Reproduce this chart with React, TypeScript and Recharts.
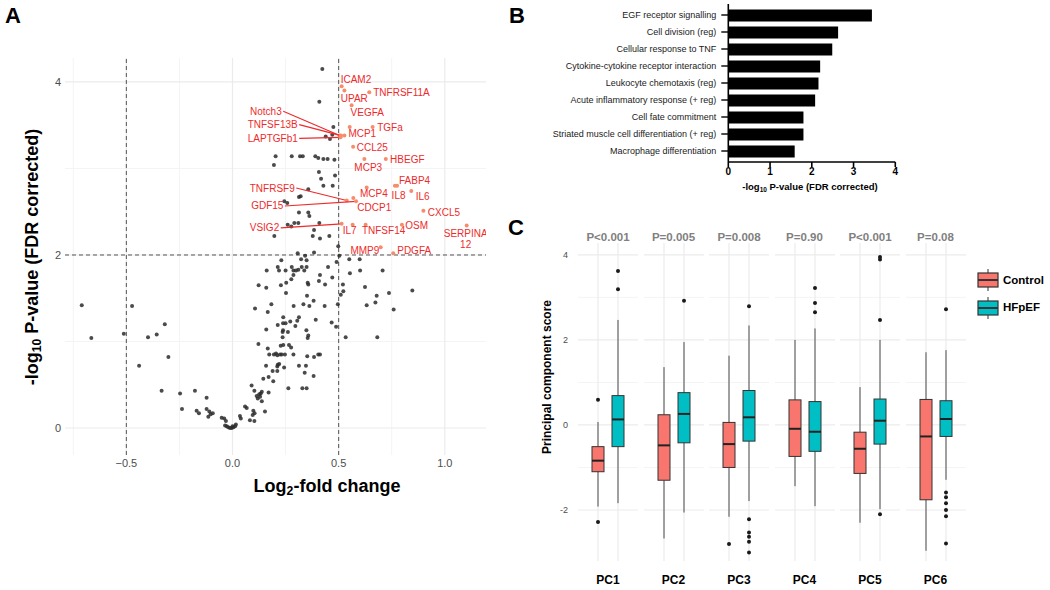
import React from 'react';
import { ScatterChart, Scatter, XAxis, YAxis, ReferenceLine, BarChart, Bar, ComposedChart, CartesianGrid } from 'recharts';

const FONT = '"Liberation Sans", Arial, Helvetica, sans-serif';

// ---------------- Panel A: volcano plot data ----------------
const bgLogFC = [
  0.423, 0.409, 0.475, 0.439, 0.459, 0.470, 0.203, 0.279, 0.318, 0.331, 0.390, 0.404, 0.428, 0.448, 0.480,
  0.195, 0.407, 0.483, 0.417, 0.428, 0.472, 0.357, 0.321, 0.313, 0.244, 0.258, 0.313, 0.357, 0.362, 0.260,
  0.277, 0.291, 0.310, 0.409, 0.197, 0.384, 0.378, 0.412, 0.456, 0.498, 0.307, 0.384,
  0.342, 0.323, 0.349, 0.230, 0.503, 0.490, 0.161, 0.213, 0.219, 0.250, 0.279, 0.287, 0.299, 0.310, 0.326,
  0.338, 0.349, 0.287, 0.450, 0.412, 0.470, 0.277, 0.407, 0.436, 0.253, 0.228, 0.123, 0.159, 0.354, 0.357,
  0.520, 0.522, 0.510, 0.252, 0.351, 0.382, 0.183, 0.288, 0.334, 0.362, 0.434, 0.496, 0.106, 0.166, 0.392,
  0.239, 0.313, 0.305, 0.272, 0.238, 0.250, 0.213, 0.296, 0.467, 0.488, 0.159, 0.238, 0.236, 0.261, 0.348,
  0.357, 0.354, 0.236, 0.533,
  0.550, 0.599, 0.553, 0.601, 0.707, 0.624, 0.679, 0.737, 0.847, 0.632, 0.673, 0.759, 0.682,
  0.122, 0.166, 0.227, 0.239, 0.266, 0.276,
  0.173, 0.195, 0.205, 0.211, 0.224, 0.232, 0.247, 0.287, 0.352, 0.384, 0.404, 0.412,
  0.158, 0.213, 0.211, 0.220, 0.189, 0.211, 0.243, 0.313, 0.346, 0.340, 0.382, 0.145, 0.170, 0.192, 0.090,
  0.103, 0.138, 0.133, 0.126, 0.114, 0.130, 0.119, 0.138, 0.170, 0.153, 0.263, 0.329, 0.349,
  -0.177, -0.122, -0.122, -0.169, -0.158, -0.109, -0.103, -0.114, -0.093, 0.059, 0.067, 0.098, 0.104, 0.095,
  0.035, 0.039, 0.082, 0.103, -0.051, -0.039, -0.031, -0.035, -0.027, -0.020, -0.012, -0.004, 0.004, 0.012,
  0.016, 0.000,
  -0.710, -0.665, -0.512, -0.473, -0.398, -0.357, -0.319, -0.302, -0.440, -0.334, -0.247, -0.238,
];
const bgNegLogP = [
  4.15, 3.77, 3.48, 3.37, 3.34, 3.39, 3.14, 3.14, 3.14, 3.14, 3.14, 3.12, 3.11, 3.11, 3.10,
  3.04, 2.96, 2.92, 2.88, 2.80, 2.80, 2.76, 2.68, 2.67, 2.62, 2.60, 2.49, 2.49, 2.45, 2.35,
  2.33, 2.37, 2.37, 2.37, 2.22, 2.29, 2.22, 2.19, 2.22, 2.10, 2.02, 2.03,
  1.99, 1.95, 1.94, 1.94, 1.99, 1.92, 1.82, 1.86, 1.82, 1.82, 1.86, 1.82, 1.82, 1.83, 1.86,
  1.82, 1.86, 1.77, 1.86, 1.77, 1.74, 1.72, 1.70, 1.66, 1.68, 1.65, 1.65, 1.62, 1.68, 1.66,
  1.66, 1.58, 1.54, 1.56, 1.53, 1.47, 1.43, 1.41, 1.43, 1.41, 1.41, 1.43, 1.38, 1.34, 1.25,
  1.28, 1.28, 1.24, 1.23, 1.21, 1.21, 1.19, 1.18, 1.22, 1.17, 1.14, 1.13, 1.11, 1.11, 1.13,
  1.07, 1.04, 1.05, 1.05,
  1.95, 1.95, 1.79, 1.82, 1.82, 1.63, 1.53, 1.56, 1.59, 1.42, 1.45, 1.37, 1.05,
  0.97, 0.92, 0.95, 0.96, 0.96, 0.93,
  0.85, 0.85, 0.86, 0.84, 0.85, 0.85, 0.85, 0.85, 0.83, 0.82, 0.85, 0.85,
  0.72, 0.73, 0.71, 0.74, 0.66, 0.66, 0.70, 0.72, 0.72, 0.64, 0.60, 0.57, 0.59, 0.54, 0.49,
  0.43, 0.42, 0.40, 0.39, 0.37, 0.36, 0.34, 0.31, 0.41, 0.19, 0.46, 0.46, 0.46,
  0.43, 0.35, 0.22, 0.20, 0.17, 0.19, 0.16, 0.13, 0.17, 0.25, 0.23, 0.20, 0.17, 0.15,
  0.14, 0.11, 0.09, 0.08, 0.12, 0.11, 0.08, 0.03, 0.02, 0.01, 0.00, 0.00, 0.01, 0.02,
  0.04, 0.02,
  1.42, 1.04, 1.09, 1.41, 1.05, 1.08, 1.20, 0.82, 0.72, 0.43, 0.40, 0.22,
];

const hitGenes = [
  'ICAM2', 'UPAR', 'TNFRSF11A', 'VEGFA', '', 'TGFa', 'MCP1', 'Notch3', 'TNFSF13B', 'LAPTGFb1',
  'CCL25', 'MCP3', 'HBEGF', 'FABP4', 'IL8', 'MCP4', 'IL6', 'TNFRSF9', 'CDCP1', 'GDF15',
  'CXCL5', 'VSIG2', 'IL7', 'TNFSF14', 'OSM', 'SERPINA12', 'MMP9', 'PDGFA',
];
const hitLogFC = [
  0.514, 0.527, 0.644, 0.561, 0.552, 0.660, 0.527, 0.505, 0.511, 0.509,
  0.568, 0.621, 0.722, 0.775, 0.765, 0.632, 0.842, 0.538, 0.569, 0.582,
  0.899, 0.514, 0.566, 0.627, 0.798, 1.103, 0.698, 0.757,
];
const hitNegLogP = [
  3.95, 3.90, 3.88, 3.73, 3.48, 3.48, 3.38, 3.38, 3.38, 3.36,
  3.25, 3.11, 3.11, 2.80, 2.80, 2.78, 2.74, 2.63, 2.66, 2.62,
  2.51, 2.36, 2.35, 2.35, 2.35, 2.34, 2.09, 2.02,
];

// label placement (pixel offsets from the point) - layout, not data
type Lay = { dx: number; dy: number; anchor?: 'start' | 'middle' | 'end'; leader?: boolean; lines?: string[] };
const labelLayout: Record<string, Lay> = {
  ICAM2: { dx: -1, dy: -6.7 },
  UPAR: { dx: -3.6, dy: 7.4 },
  TNFRSF11A: { dx: 4, dy: 0 },
  VEGFA: { dx: -1, dy: 6.7 },
  TGFa: { dx: 4.6, dy: 0.7 },
  MCP1: { dx: 4, dy: -1.7 },
  Notch3: { dx: -58, dy: -24.3, anchor: 'end', leader: true },
  TNFSF13B: { dx: -43.3, dy: -11, anchor: 'end', leader: true },
  LAPTGFb1: { dx: -42.8, dy: 1, anchor: 'end', leader: true },
  CCL25: { dx: 3.7, dy: 0.7 },
  MCP3: { dx: -10, dy: 8.4 },
  HBEGF: { dx: 4.3, dy: 0.7 },
  FABP4: { dx: 2, dy: -5.7 },
  IL8: { dx: -3.3, dy: 9.3 },
  MCP4: { dx: -6.7, dy: 6 },
  IL6: { dx: 4.4, dy: 5.6 },
  TNFRSF9: { dx: -52, dy: -12.4, anchor: 'end', leader: true },
  CDCP1: { dx: 4, dy: 10 },
  GDF15: { dx: -72.7, dy: 4.6, anchor: 'end', leader: true },
  CXCL5: { dx: 4.4, dy: 1.4 },
  VSIG2: { dx: -62.4, dy: 4, anchor: 'end', leader: true },
  IL7: { dx: -10, dy: 6 },
  TNFSF14: { dx: -3.7, dy: 6 },
  OSM: { dx: 3.3, dy: 0.7 },
  SERPINA12: { dx: -1, dy: 7.7, anchor: 'middle', lines: ['SERPINA', '12'] },
  MMP9: { dx: -1.4, dy: 3.4, anchor: 'end' },
  PDGFA: { dx: 4, dy: -2.6 },
};

const volcanoXTicks = [-0.5, 0, 0.5, 1.0];
const volcanoYTicks = [0, 2, 4];
const volcanoXMinor = [-0.75, -0.25, 0.25, 0.75];
const volcanoYMinor = [1, 3];

// ---------------- Panel B: pathway enrichment ----------------
const pathways = [
  'EGF receptor signalling',
  'Cell division (reg)',
  'Cellular response to TNF',
  'Cytokine-cytokine receptor interaction',
  'Leukocyte chemotaxis (reg)',
  'Acute inflammatory response (+ reg)',
  'Cell fate commitment',
  'Striated muscle cell differentiation (+ reg)',
  'Macrophage differentiation',
];
const pathwayScores = [3.44, 2.63, 2.49, 2.2, 2.16, 2.08, 1.8, 1.8, 1.59];
const pathwayTicks = [0, 1, 2, 3, 4];

// ---------------- Panel C: principal component boxplots ----------------
const pcs = ['PC1', 'PC2', 'PC3', 'PC4', 'PC5', 'PC6'];
const pLabels = ['P<0.001', 'P=0.005', 'P=0.008', 'P=0.90', 'P<0.001', 'P=0.08'];
const groupNames = ['Control', 'HFpEF'];
const ctrlLow = [-1.92, -2.67, -2.16, -1.44, -2.3, -2.96];
const ctrlQ1 = [-1.1, -1.3, -1.0, -0.74, -1.14, -1.76];
const ctrlMed = [-0.84, -0.48, -0.45, -0.09, -0.56, -0.27];
const ctrlQ3 = [-0.51, 0.24, 0.06, 0.59, -0.17, 0.6];
const ctrlHigh = [0.07, 1.36, 1.63, 2.0, 0.89, 1.71];
const ctrlOutliers = [[0.59, -2.28], [], [-2.8], [], [], []];
const hfLow = [-1.84, -2.06, -1.79, -1.91, -1.98, -1.29];
const hfQ1 = [-0.51, -0.42, -0.38, -0.62, -0.45, -0.27];
const hfMed = [0.13, 0.26, 0.18, -0.16, 0.1, 0.14];
const hfQ3 = [0.69, 0.76, 0.81, 0.55, 0.61, 0.57];
const hfHigh = [2.47, 1.95, 2.34, 2.27, 2.0, 1.76];
const hfOutliers = [
  [3.62, 3.19],
  [2.92],
  [2.79, -2.22, -2.53, -2.63, -2.75, -3.0],
  [3.22, 2.87, 2.65],
  [3.95, 3.89, 2.47, -2.1],
  [2.72, -1.59, -1.7, -1.84, -2.0, -2.15, -2.79],
];
const pcMajor = [-2, 0, 2, 4];
const pcMinor = [-3, -1, 1, 3];

const CTRL_COL = '#F8766D';
const HF_COL = '#00BFC4';
const RED = '#EE2A2A';
const HIT = '#F68C6C';
const GRID_MAJOR = '#ebebeb';
const GRID_MINOR = '#f4f4f4';

// ---------------- helpers ----------------
type TProps = {
  x: number; y: number; size: number; bold?: boolean; color?: string; rotate?: number;
  anchor?: 'start' | 'middle' | 'end'; children: React.ReactNode;
};
const T = ({ x, y, size, bold, color = '#000', rotate, anchor = 'middle', children }: TProps) => {
  const tx = anchor === 'middle' ? '-50%' : anchor === 'end' ? '-100%' : '0';
  return (
    <div
      style={{
        position: 'absolute', left: x, top: y, fontSize: size, fontWeight: bold ? 700 : 400, color,
        lineHeight: 1, whiteSpace: 'nowrap', fontFamily: FONT,
        transform: `translate(${tx}, -50%)${rotate ? ` rotate(${rotate}deg)` : ''}`,
      }}
    >
      {children}
    </div>
  );
};
const Sub = ({ children }: { children: React.ReactNode }) => (
  <span style={{ fontSize: '0.68em', verticalAlign: '-0.28em' }}>{children}</span>
);

const BgDot = (p: any) => <circle cx={p.cx} cy={p.cy} r={2} fill="#2b2b2b" fillOpacity={0.85} />;

const HitShape = (p: any) => {
  const { cx, cy, payload } = p;
  const lay = labelLayout[payload.gene];
  const lines = lay ? lay.lines || [payload.gene] : [];
  return (
    <g>
      {lay && lay.leader && (
        <line x1={cx + lay.dx + 1.5} y1={cy + lay.dy} x2={cx} y2={cy} stroke={RED} strokeWidth={1.1} />
      )}
      <circle cx={cx} cy={cy} r={2} fill={HIT} />
      {lay &&
        lines.map((ln, k) => (
          <text
            key={k}
            x={cx + lay.dx}
            y={cy + lay.dy + k * 11.3}
            fill={RED}
            fontSize={10}
            fontFamily={FONT}
            textAnchor={lay.anchor || 'start'}
            dominantBaseline="central"
          >
            {ln}
          </text>
        ))}
    </g>
  );
};

const BoxShape = (p: any) => {
  const { x, y, width, height, payload } = p;
  const top = Math.min(y, y + height);
  const h = Math.abs(height);
  const { lo, q1, med, q3, hi, group } = payload;
  const ppu = h / (hi - lo);
  const py = (v: number) => top + (hi - v) * ppu;
  const cx = x + width / 2;
  const fill = group === 'Control' ? CTRL_COL : HF_COL;
  return (
    <g>
      <line x1={cx} x2={cx} y1={py(hi)} y2={py(lo)} stroke="#4d4d4d" strokeWidth={1} />
      <rect x={x} y={py(q3)} width={width} height={py(q1) - py(q3)} fill={fill} stroke="#333" strokeWidth={1} />
      <line x1={x} x2={x + width} y1={py(med)} y2={py(med)} stroke="#222" strokeWidth={2} />
    </g>
  );
};

// vertical grid line through each box position (drawn as the bar background, beneath the box)
const VGrid = (p: any) => (
  <line x1={p.x + p.width / 2} x2={p.x + p.width / 2} y1={p.y} y2={p.y + p.height} stroke={GRID_MAJOR} strokeWidth={1.2} />
);

const OutDot = (p: any) => <circle cx={p.cx} cy={p.cy} r={2} fill="#1a1a1a" />;

const PathTick = (p: any) => (
  <text x={p.x} y={p.y} textAnchor="end" dominantBaseline="central" fontSize={9} fill="#1a1a1a" fontFamily={FONT}>
    {p.payload.value}
  </text>
);

// ---------------- Panels ----------------
function PanelA() {
  const bg = bgLogFC.map((x, i) => ({ x, y: bgNegLogP[i] }));
  const hits = hitGenes.map((gene, i) => ({ gene, x: hitLogFC[i], y: hitNegLogP[i] }));
  return (
    <div style={{ position: 'absolute', left: 0, top: 0 }}>
      <ScatterChart width={500} height={500} margin={{ top: 58, right: 14, bottom: 25, left: 45 }}>
        <CartesianGrid verticalValues={volcanoXMinor} horizontalValues={volcanoYMinor} stroke={GRID_MINOR} strokeWidth={1} />
        <CartesianGrid verticalValues={volcanoXTicks} horizontalValues={volcanoYTicks} stroke={GRID_MAJOR} strokeWidth={1.2} />
        <XAxis
          type="number"
          dataKey="x"
          domain={[-0.789, 1.194]}
          allowDataOverflow
          ticks={volcanoXTicks}
          tickFormatter={(v: number) => (v < 0 ? '\u2212' + Math.abs(v).toFixed(1) : v.toFixed(1))}
          axisLine={false}
          tickLine={false}
          tickSize={2}
          tickMargin={2}
          height={20}
          tick={{ fill: '#4d4d4d', fontSize: 11, fontFamily: FONT }}
        />
        <YAxis
          type="number"
          dataKey="y"
          domain={[-0.312, 4.277]}
          allowDataOverflow
          ticks={volcanoYTicks}
          axisLine={false}
          tickLine={false}
          tickSize={2}
          tickMargin={2}
          width={20}
          tick={{ fill: '#4d4d4d', fontSize: 11, fontFamily: FONT }}
        />
        <ReferenceLine x={-0.5} stroke="#555" strokeDasharray="4 3" />
        <ReferenceLine x={0.5} stroke="#555" strokeDasharray="4 3" />
        <ReferenceLine y={2} stroke="#555" strokeDasharray="4 3" />
        <Scatter data={bg} shape={BgDot} isAnimationActive={false} />
        <Scatter data={hits} shape={HitShape} isAnimationActive={false} />
      </ScatterChart>
    </div>
  );
}

function PanelB() {
  const data = pathways.map((name, i) => ({ name, score: pathwayScores[i] }));
  return (
    <div style={{ position: 'absolute', left: 520, top: 0 }}>
      <BarChart
        layout="vertical"
        width={400}
        height={200}
        data={data}
        margin={{ top: 4, right: 24.7, bottom: 0, left: 8.3 }}
        barSize={12}
      >
        <XAxis
          type="number"
          domain={[0, 4]}
          ticks={pathwayTicks}
          axisLine={{ stroke: '#000', strokeWidth: 1.6 }}
          tickLine={{ stroke: '#000', strokeWidth: 1.6 }}
          tickSize={5}
          tickMargin={1}
          height={38}
          tick={{ fill: '#000', fontSize: 10, fontWeight: 700, fontFamily: FONT }}
        />
        <YAxis
          type="category"
          dataKey="name"
          width={200}
          interval={0}
          padding={{ top: 2.5, bottom: 2.5 }}
          axisLine={{ stroke: '#000', strokeWidth: 1.6 }}
          tickLine={{ stroke: '#000', strokeWidth: 1.4 }}
          tickSize={7}
          tickMargin={5}
          tick={PathTick}
        />
        <Bar dataKey="score" fill="#000" isAnimationActive={false} />
      </BarChart>
    </div>
  );
}

const FACET_W = 60;
const FACET_STEP = 65.5;
const FACET_LEFT = 578;
const C_TOP = 243;
const C_H = 318;
const C_YW = 22;

function Facet({ i }: { i: number }) {
  const data = [
    { group: groupNames[0], lo: ctrlLow[i], q1: ctrlQ1[i], med: ctrlMed[i], q3: ctrlQ3[i], hi: ctrlHigh[i] },
    { group: groupNames[1], lo: hfLow[i], q1: hfQ1[i], med: hfMed[i], q3: hfQ3[i], hi: hfHigh[i] },
  ];
  const outliers = [
    ...ctrlOutliers[i].map((v) => ({ group: groupNames[0], v })),
    ...hfOutliers[i].map((v) => ({ group: groupNames[1], v })),
  ];
  const yW = i === 0 ? C_YW : 0;
  return (
    <div style={{ position: 'absolute', left: FACET_LEFT + i * FACET_STEP - yW, top: C_TOP }}>
      <ComposedChart width={FACET_W + yW} height={C_H} data={data} margin={{ top: 0, right: 0, bottom: 0, left: 0 }}>
        <CartesianGrid vertical={false} horizontalValues={pcMinor} stroke={GRID_MINOR} strokeWidth={1} />
        <CartesianGrid vertical={false} horizontalValues={pcMajor} stroke={GRID_MAJOR} strokeWidth={1.2} />
        <XAxis dataKey="group" type="category" hide padding={{ left: 10, right: 10 }} allowDuplicatedCategory={false} />
        <YAxis
          type="number"
          domain={[-3.2, 4.28]}
          allowDataOverflow
          ticks={pcMajor}
          hide={i !== 0}
          width={yW}
          axisLine={false}
          tickLine={false}
          tickSize={6}
          tickMargin={4}
          tick={{ fill: '#4d4d4d', fontSize: 9, fontFamily: FONT }}
        />
        <Bar
          dataKey={(d: any) => [d.lo, d.hi]}
          barSize={12}
          shape={BoxShape}
          background={VGrid}
          isAnimationActive={false}
        />
        <Scatter data={outliers} dataKey="v" shape={OutDot} isAnimationActive={false} />
      </ComposedChart>
    </div>
  );
}

const LegendKey = ({ color }: { color: string }) => (
  <svg width={24} height={22} style={{ display: 'block' }}>
    <line x1={11} x2={11} y1={0} y2={22} stroke="#333" strokeWidth={1} />
    <rect x={1} y={4} width={20} height={14} fill={color} stroke="#333" strokeWidth={1.2} />
    <line x1={1} x2={21} y1={11} y2={11} stroke="#333" strokeWidth={2} />
  </svg>
);

function PanelC() {
  return (
    <>
      {pcs.map((_, i) => (
        <Facet key={i} i={i} />
      ))}
      {pLabels.map((lab, i) => (
        <T key={'p' + i} x={FACET_LEFT + i * FACET_STEP + FACET_W / 2} y={238} size={11.5} bold color="#808080">
          {lab}
        </T>
      ))}
      {pcs.map((lab, i) => (
        <T key={'x' + i} x={FACET_LEFT + i * FACET_STEP + FACET_W / 2} y={580} size={12} bold>
          {lab}
        </T>
      ))}
      <T x={547} y={377} size={12} bold rotate={-90}>
        Principal component score
      </T>
      {groupNames.map((g, k) => (
        <div key={g} style={{ position: 'absolute', left: 977, top: 269 + k * 27.5 }}>
          <LegendKey color={k === 0 ? CTRL_COL : HF_COL} />
        </div>
      ))}
      {groupNames.map((g, k) => (
        <T key={'l' + g} x={1003} y={281 + k * 27} size={11.5} bold anchor="start">
          {g}
        </T>
      ))}
    </>
  );
}

export default function App() {
  return (
    <div
      style={{
        position: 'absolute', left: 0, top: 0, width: 1050, height: 590, background: '#fff',
        overflow: 'hidden', fontFamily: FONT,
      }}
    >
      <PanelA />
      <PanelB />
      <PanelC />
      {/* Panel letters */}
      <T x={5} y={16} size={22} bold anchor="start">A</T>
      <T x={509} y={16} size={22} bold anchor="start">B</T>
      <T x={508} y={228} size={22} bold anchor="start">C</T>
      {/* Panel A titles */}
      <T x={327} y={487} size={18} bold>
        Log<Sub>2</Sub>-fold change
      </T>
      <T x={33} y={257} size={18} bold rotate={-90}>
        -log<Sub>10</Sub> P-value (FDR corrected)
      </T>
      {/* Panel B title */}
      <T x={810} y={188} size={9.5} bold>
        -log<Sub>10</Sub> P-value (FDR corrected)
      </T>
    </div>
  );
}
